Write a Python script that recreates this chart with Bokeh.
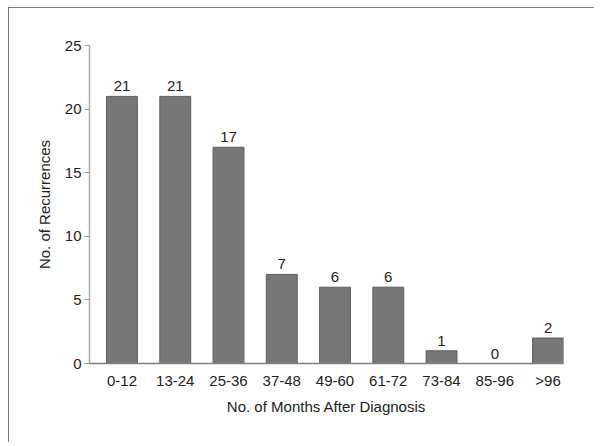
from bokeh.plotting import figure
from bokeh.models import ColumnDataSource, FixedTicker, Range1d
from bokeh.core.properties import value
from bokeh.embed import file_html
from bokeh.resources import INLINE

months = ["0-12", "13-24", "25-36", "37-48", "49-60", "61-72", "73-84", "85-96", ">96"]
recurrences = [21, 21, 17, 7, 6, 6, 1, 0, 2]
y_ticks = [0, 5, 10, 15, 20, 25]

FONT = "Liberation Sans"

pos = list(range(len(months)))
src = ColumnDataSource(dict(x=pos, y=recurrences, label=[str(v) for v in recurrences]))

p = figure(width=586, height=435, output_backend="svg", toolbar_location=None,
           x_range=Range1d(-0.61, len(months) - 1 + 0.29), y_range=Range1d(0, 25),
           min_border_left=81, min_border_right=31, min_border_top=38, min_border_bottom=79)
p.outline_line_color = None
p.grid.visible = False
# outer frame around the whole chart
p.styles = {"position": "relative", "left": "8px", "top": "7px",
            "width": "586px", "height": "435px",
            "outline": "2px solid #555555", "outline-offset": "-2px"}

p.vbar(x="x", top="y", width=0.58, source=src, fill_color="#777777", line_color="#5e5e5e", line_width=1)
p.text(x="x", y="y", text="label", source=src, text_align="center", text_baseline="bottom",
       y_offset=-5, text_font=value(FONT), text_font_size="15px", text_color="#222222")

xa = p.xaxis[0]
xa.ticker = FixedTicker(ticks=pos)
xa.major_label_overrides = {i: m for i, m in enumerate(months)}
xa.major_tick_out = 0
xa.major_tick_in = 0
xa.minor_tick_out = 0
xa.minor_tick_in = 0
xa.axis_line_color = "#808080"
xa.axis_line_width = 1.5
xa.major_label_standoff = 8
xa.axis_label = "No. of Months After Diagnosis"
xa.axis_label_standoff = 6

ya = p.yaxis[0]
ya.ticker = FixedTicker(ticks=y_ticks)
ya.major_tick_out = 5
ya.major_tick_in = 0
ya.minor_tick_out = 0
ya.minor_tick_in = 0
ya.major_tick_line_color = "#999999"
ya.axis_line_color = "#aaaaaa"
ya.axis_line_width = 1.5
ya.major_label_standoff = 3
ya.axis_label = "No. of Recurrences"
ya.axis_label_standoff = 9

for ax in (xa, ya):
    ax.major_label_text_font = FONT
    ax.major_label_text_font_size = "15px"
    ax.major_label_text_color = "#222222"
    ax.axis_label_text_font = FONT
    ax.axis_label_text_font_size = "15px"
    ax.axis_label_text_font_style = "normal"
    ax.axis_label_text_color = "#222222"

open("out.html", "w").write(file_html(p, INLINE))
